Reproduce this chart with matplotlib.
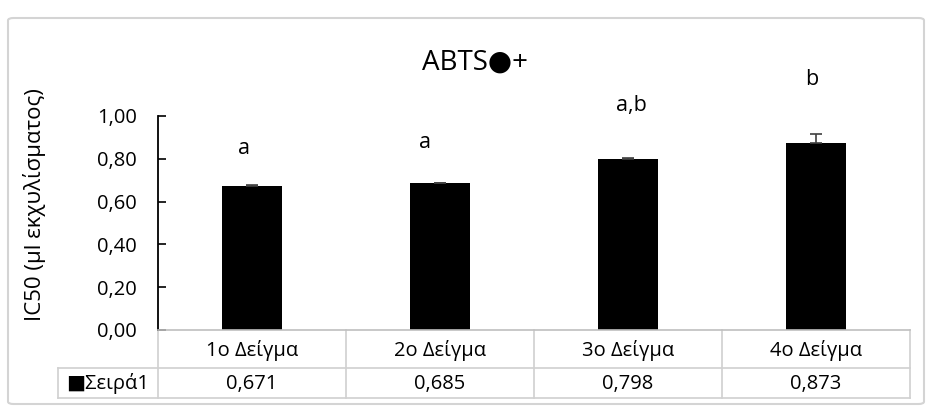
import matplotlib
matplotlib.use("Agg")
import matplotlib.pyplot as plt
from matplotlib.patches import FancyBboxPatch
from matplotlib.ticker import FuncFormatter

plt.rcParams['font.family'] = ['Open Sans', 'DejaVu Sans']

# data
categories = ["1ο Δείγμα", "2ο Δείγμα", "3ο Δείγμα", "4ο Δείγμα"]
values = [0.671, 0.685, 0.798, 0.873]
errors = [0.006, 0.003, 0.004, 0.045]
value_labels = ["0,671", "0,685", "0,798", "0,873"]
letters = ["a", "a", "a,b", "b"]
series_name = "Σειρά1"

# letter placement (data units)
letter_x = [-0.04, 0.92, 2.02, 2.98]
letter_y = [0.85, 0.875, 1.05, 1.17]

fig = plt.figure(figsize=(9.29, 4.12), dpi=100)
W, H = 929, 412

# chart frame
frame = FancyBboxPatch((8 / W, 1 - 404 / H), 916 / W, 386 / H,
                       boxstyle="round,pad=0,rounding_size=0.006",
                       transform=fig.transFigure, fill=False,
                       ec="#d4d4d4", lw=1.5)
fig.patches.append(frame)

ax = fig.add_axes([158 / W, 82 / H, 752 / W, 214 / H])
x = list(range(len(categories)))
ax.bar(x, values, width=0.315, color="black", zorder=2)
ax.errorbar(x, values, yerr=[[0] * len(values), errors], fmt="none",
            ecolor="#404040", elinewidth=1.2, capsize=4.5, capthick=1.2, zorder=3)

for xi, yi, t in zip(letter_x, letter_y, letters):
    ax.text(xi, yi, t, ha="center", va="center", fontsize=15.5, clip_on=False)

ax.set_xlim(-0.5, 3.5)
ax.set_ylim(0, 1.0)
ax.set_yticks([0, 0.2, 0.4, 0.6, 0.8, 1.0])
ax.yaxis.set_major_formatter(FuncFormatter(lambda v, p: f"{v:.2f}".replace(".", ",")))
ax.tick_params(axis="y", direction="in", length=6, width=1.2, labelsize=14.5, pad=15)
ax.set_xticks([])
for s in ["top", "right"]:
    ax.spines[s].set_visible(False)
ax.spines["left"].set_linewidth(1.3)
ax.spines["bottom"].set_color("#bfbfbf")
ax.spines["bottom"].set_linewidth(1.2)

# data table under the axis
tr = ax.get_xaxis_transform()
grid = dict(color="#d0d0d0", lw=1.2, transform=tr, clip_on=False)
row_mid = -0.178
row_bot = -0.318
ax.plot([-1.03, 3.5], [row_mid, row_mid], **grid)
ax.plot([-1.03, 3.5], [row_bot, row_bot], **grid)
ax.plot([-1.03, -1.03], [row_mid, row_bot], **grid)
for xv in [-0.5, 0.5, 1.5, 2.5, 3.5]:
    ax.plot([xv, xv], [0, row_bot], **grid)

for xi, c, v in zip(x, categories, value_labels):
    ax.text(xi, -0.098, c, ha="center", va="center", fontsize=14.5, transform=tr)
    ax.text(xi, -0.252, v, ha="center", va="center", fontsize=14.5, transform=tr)
ax.text(-0.77, -0.252, "■" + series_name, ha="center", va="center",
        fontsize=14.5, transform=tr)

fig.text(475 / W, 1 - 63 / H, "ABTS●+", ha="center", va="center", fontsize=20)
fig.text(35 / W, 1 - 205 / H, "IC50 (μl εκχυλίσματος)", ha="center", va="center",
         rotation=90, fontsize=16)

fig.savefig("out.png", dpi=100)
